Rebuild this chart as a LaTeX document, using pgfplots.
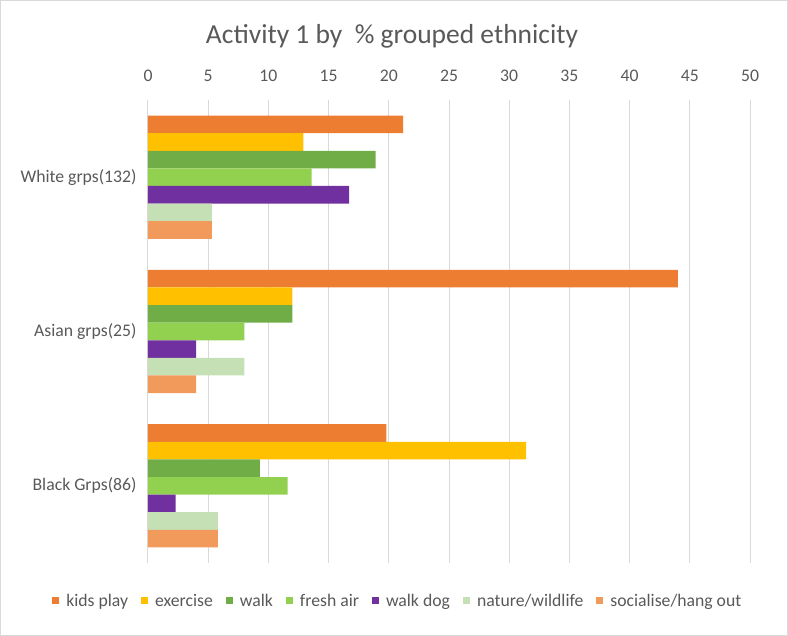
\documentclass[border=0pt]{standalone}
\usepackage{fontspec}
\setmainfont{Carlito}
\usepackage{pgfplots}
\pgfplotsset{compat=1.18}
\definecolor{ckids}{HTML}{ED7D31}
\definecolor{cexer}{HTML}{FFC000}
\definecolor{cwalk}{HTML}{70AD47}
\definecolor{cfresh}{HTML}{92D050}
\definecolor{cdog}{HTML}{7030A0}
\definecolor{cnat}{HTML}{C5E0B4}
\definecolor{csoc}{HTML}{F19A5C}
\definecolor{txt}{HTML}{595959}
\definecolor{gridc}{HTML}{D9D9D9}
\begin{document}
\begin{tikzpicture}
\useasboundingbox (0pt,0pt) rectangle (788pt,636pt);
\draw[gridc] (0.5pt,0.5pt) rectangle (787.5pt,635.5pt);
\node[font=\fontsize{27.5}{31}\selectfont, text=txt] at (392pt,600pt) {Activity 1 by \ \% grouped ethnicity};
\begin{axis}[
  at={(148pt,73pt)}, anchor=south west,
  scale only axis, width=602pt, height=463pt,
  xbar=0pt, bar width=17.6pt,
  xmin=0, xmax=50, xtick={0,5,...,50},
  ymin=-0.5, ymax=2.5,
  ytick={0,1,2},
  yticklabels={Black Grps(86), Asian grps(25), White grps(132)},
  xticklabel pos=upper,
  axis line style={draw=none},
  major tick length=0pt,
  xmajorgrids, grid style={gridc, line width=1pt},
  /pgf/number format/assume math mode=true,
  ticklabel style={font=\fontsize{17.7}{20}\selectfont, text=txt},
  xticklabel style={yshift=15pt},
  yticklabel style={xshift=-8pt},
  legend columns=7,
  legend style={at={(0.415,-0.082)}, anchor=center, draw=none,
    font=\fontsize{17.7}{20}\selectfont, text=txt,
    /tikz/every odd column/.append style={column sep=5pt},
    /tikz/every even column/.append style={column sep=11pt}},
  legend image code/.code={\fill[#1,draw=none] (0pt,-3.5pt) rectangle (7pt,3.5pt);},
]
\addplot[fill=ckids, draw=none, bar shift=52.8pt] coordinates {(21.2,2) (44.0,1) (19.8,0)};
\addlegendentry{kids play}
\addplot[fill=cexer, draw=none, bar shift=35.2pt] coordinates {(12.9,2) (12.0,1) (31.4,0)};
\addlegendentry{exercise}
\addplot[fill=cwalk, draw=none, bar shift=17.6pt] coordinates {(18.9,2) (12.0,1) (9.3,0)};
\addlegendentry{walk}
\addplot[fill=cfresh, draw=none, bar shift=0pt] coordinates {(13.6,2) (8.0,1) (11.6,0)};
\addlegendentry{fresh air}
\addplot[fill=cdog, draw=none, bar shift=-17.6pt] coordinates {(16.7,2) (4.0,1) (2.3,0)};
\addlegendentry{walk dog}
\addplot[fill=cnat, draw=none, bar shift=-35.2pt] coordinates {(5.3,2) (8.0,1) (5.8,0)};
\addlegendentry{nature/wildlife}
\addplot[fill=csoc, draw=none, bar shift=-52.8pt] coordinates {(5.3,2) (4.0,1) (5.8,0)};
\addlegendentry{socialise/hang out}
\end{axis}
\end{tikzpicture}
\end{document}
